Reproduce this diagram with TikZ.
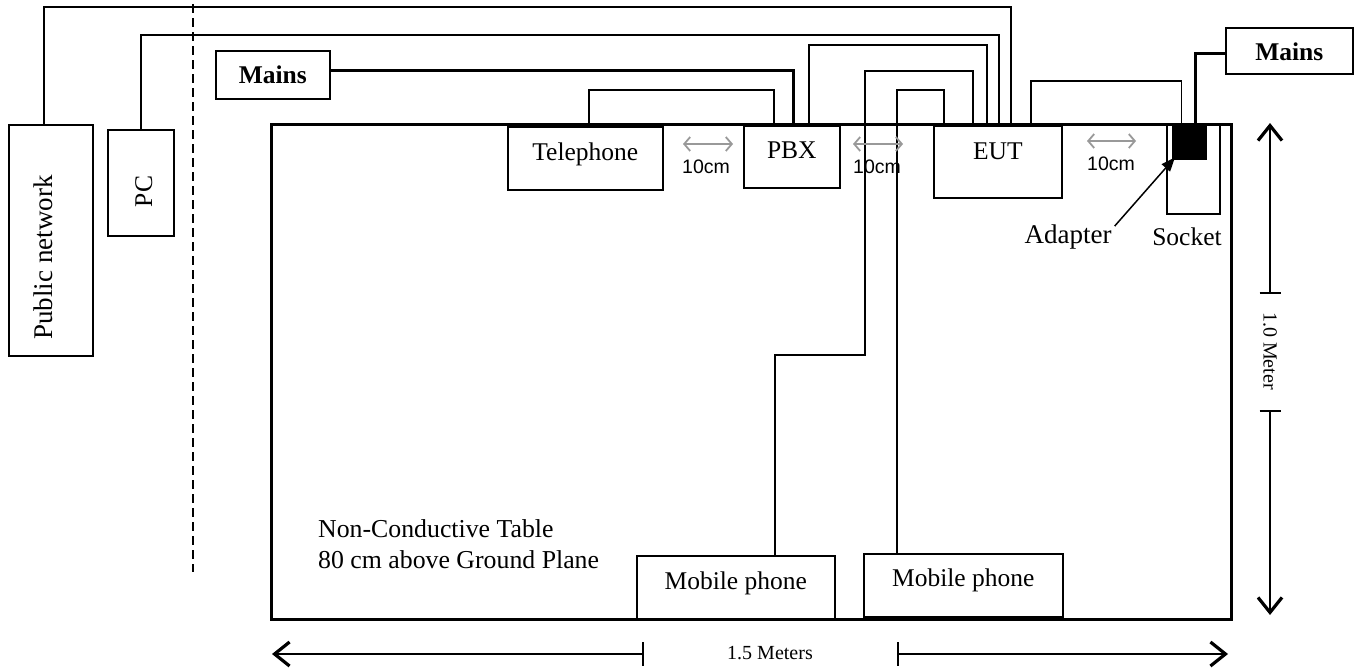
\documentclass[tikz,border=0pt]{standalone}
\usepackage{fontspec}
\setmainfont{Liberation Serif}
\newfontfamily\arialf{Liberation Sans}
\usetikzlibrary{arrows.meta,calc}
\begin{document}
\begin{tikzpicture}[x=1pt,y=-1pt,
  box/.style={draw, line width=1.6pt, inner sep=0pt, font=\fontsize{25.5}{30}\selectfont},
  lbl/.style={inner sep=0pt, font=\fontsize{25.5}{30}\selectfont},
  wire/.style={line width=1.4pt},
  heavywire/.style={line width=3pt},
  gaparrow/.style={draw=black!40, line width=1.6pt, {Straight Barb[length=6pt,width=14pt,line width=1.8pt]}-{Straight Barb[length=6pt,width=14pt,line width=1.8pt]}},
  gaplbl/.style={inner sep=0pt, font=\arialf\fontsize{19.5}{22}\selectfont},
  dimline/.style={line width=1.6pt},
  dimarrow/.style={line width=1.6pt, -{Straight Barb[length=15pt,width=24pt,line width=3.2pt]}},
  dimlbl/.style={inner sep=0pt, font=\fontsize{20}{22}\selectfont}]
\useasboundingbox (0,0) rectangle (1359,667);

% table
\node[draw, line width=2.8pt, minimum width=960pt, minimum height=495pt, inner sep=0pt, anchor=north west] (table) at (270,123) {};

% dashed separation line
\coordinate (dtop) at (193,4);
\coordinate (dbot) at (193,572);
\draw[line width=1.5pt, dash pattern=on 9pt off 5pt] (dtop) -- (dbot);

% boxes
\node[box, minimum width=84pt, minimum height=231pt, anchor=north west] (pubnet) at (8,124) {};
\node[lbl, rotate=90, anchor=base, font=\fontsize{27}{30}\selectfont] (pubnet-t) at (52,257.5) {Public network};
\node[box, minimum width=66pt, minimum height=106pt, anchor=north west] (pc) at (107,129) {};
\node[lbl, rotate=90, anchor=base] (pc-t) at (152,191.5) {PC};

\node[box, font=\bfseries\fontsize{25.5}{30}\selectfont, minimum width=114pt, text height=33pt, text depth=15pt, anchor=north west] (mainsL) at (215,50) {Mains};
\node[box, font=\bfseries\fontsize{25.5}{30}\selectfont, minimum width=127pt, text height=33pt, text depth=13pt, anchor=north west] (mainsR) at (1225,27) {Mains};

\node[box, minimum width=155pt, text height=34pt, text depth=29pt, anchor=north west] (tel) at (507,126) {Telephone};
\node[box, minimum width=96pt, text height=33pt, text depth=29pt, anchor=north west] (pbx) at (743,125) {PBX};
\node[box, minimum width=128pt, text height=34pt, text depth=38pt, anchor=north west] (eut) at (933,125) {EUT};
\node[box, minimum width=198pt, text height=34pt, text depth=29pt, anchor=north west] (mob1) at (636,555) {Mobile phone};
\node[box, minimum width=199pt, text height=33pt, text depth=30pt, anchor=north west] (mob2) at (863,553) {Mobile phone};

\node[box, minimum width=53pt, minimum height=90pt, anchor=north west] (socket) at (1166,123) {};
\node[fill=black, minimum width=35pt, minimum height=37pt, inner sep=0pt, anchor=north west] (adapter) at (1172,123) {};
\node[lbl, anchor=base] (socket-t) at (1187,245) {Socket};
\node[lbl, anchor=base, font=\fontsize{27}{30}\selectfont] (adapter-t) at (1068,243) {Adapter};

\node[lbl, anchor=base west, font=\fontsize{25.8}{30}\selectfont] (tbl-1) at (318,537) {Non-Conductive Table};
\node[lbl, anchor=base west, font=\fontsize{25.8}{30}\selectfont] (tbl-2) at (318,568) {80 cm above Ground Plane};

% wires
\draw[wire] ([xshift=-7pt]pubnet.north) -- ++(0,-117) -| ([xshift=13pt]eut.north);
\draw[wire] (pc.north) -- ++(0,-94) -| ([xshift=1pt]eut.north);
\draw[wire] ([xshift=17pt]pbx.north) -- ++(0,-80) -| ([xshift=-11pt]eut.north);
\draw[wire] ([xshift=39pt]mob1.north) -- ++(0,-200) -- ++(90,0) -- ++(0,-284) -| ([xshift=-25pt]eut.north);
\draw[wire] ([xshift=-66.5pt]mob2.north) -- ++(0,-463) -| ([xshift=-54pt]eut.north);
\draw[wire] ([xshift=3.5pt]tel.north) -- ++(0,-36) -| ([xshift=-18pt]pbx.north);
\draw[wire] ([xshift=33pt]eut.north) -- ++(0,-44) -| ([xshift=-8.5pt]adapter.north);
\draw[heavywire] ([yshift=4pt]mainsL.east) -| ([xshift=2pt]pbx.north);
\draw[heavywire] ([xshift=5.5pt]adapter.north) |- ([yshift=-3pt]mainsR.west);

% adapter pointer
\draw[line width=1.5pt, -{Triangle[length=14pt,width=11pt]}] ([xshift=3pt,yshift=-2pt]adapter-t.north east) -- ([xshift=3pt,yshift=3pt]adapter.south west);

% 10cm gaps
\coordinate (g1a) at (683,144); \coordinate (g1b) at (733,144);
\coordinate (g2a) at (853,144); \coordinate (g2b) at (903,144);
\coordinate (g3a) at (1087,141); \coordinate (g3b) at (1136,141);
\draw[gaparrow] (g1a) -- (g1b);
\draw[gaparrow] (g2a) -- (g2b);
\draw[gaparrow] (g3a) -- (g3b);
\node[gaplbl, anchor=base] (g1t) at (706,173) {10cm};
\node[gaplbl, anchor=base] (g2t) at (877,173) {10cm};
\node[gaplbl, anchor=base] (g3t) at (1111,170) {10cm};

% horizontal dimension
\coordinate (hl) at (272,654); \coordinate (htl) at (643,654);
\coordinate (htr) at (898,654); \coordinate (hr) at (1228,654);
\draw[dimarrow] (htl) -- (hl);
\draw[dimarrow] (htr) -- (hr);
\draw[dimline] ([yshift=12pt]htl) -- ([yshift=-12pt]htl);
\draw[dimline] ([yshift=12pt]htr) -- ([yshift=-12pt]htr);
\node[dimlbl] (hdim) at (770,653.5) {1.5 Meters};

% vertical dimension
\coordinate (vt) at (1270,123); \coordinate (vtt) at (1270,293);
\coordinate (vtb) at (1270,411); \coordinate (vb) at (1270,615);
\draw[dimarrow] (vtt) -- (vt);
\draw[dimarrow] (vtb) -- (vb);
\draw[dimline] ([xshift=-10.5pt]vtt) -- ([xshift=10.5pt]vtt);
\draw[dimline] ([xshift=-10.5pt]vtb) -- ([xshift=10.5pt]vtb);
\node[dimlbl, rotate=-90] (vdim) at (1270,351) {1.0 Meter};
\end{tikzpicture}
\end{document}
